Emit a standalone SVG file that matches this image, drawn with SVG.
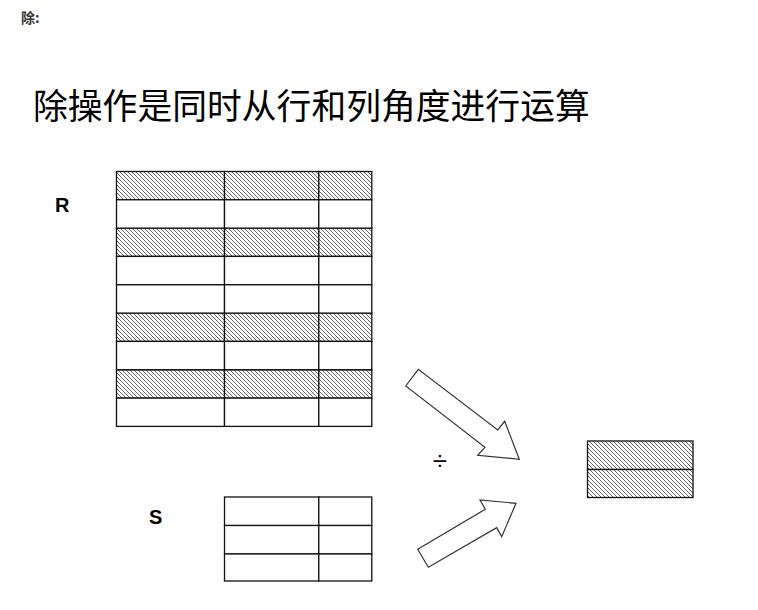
<svg xmlns="http://www.w3.org/2000/svg" width="758" height="610" viewBox="0 0 758 610">
<style>
.cell{fill:#fff;stroke:#111;stroke-width:1.3}
.hat{fill:url(#hatch);stroke:#111;stroke-width:1.3}
.lbl{font-family:"Liberation Sans",Arial,sans-serif;font-weight:bold;font-size:20px;fill:#000}
.arrow{fill:#fff;stroke:#333;stroke-width:1.2;stroke-linejoin:miter}
</style>
<defs>
<pattern id="hatch" patternUnits="userSpaceOnUse" width="4" height="4">
<rect width="4" height="4" fill="#fff"/>
<path d="M-1,-1 L5,5 M-1,3 L1,5 M3,-1 L5,1" stroke="#555" stroke-width="0.9"/>
</pattern>
</defs>
<rect width="758" height="610" fill="#fff"/>
<text x="21" y="23" style="font-family:'Noto Sans CJK SC',sans-serif;font-weight:bold;font-size:14px;fill:#333">除:</text>
<text x="33" y="119" style="font-family:'Noto Sans CJK SC',sans-serif;font-size:34.8px;fill:#000">除操作是同时从行和列角度进行运算</text>
<g id="R">
<text class="lbl" x="55" y="212">R</text>
<g class="hat">
<rect x="116.5" y="171.5" width="108" height="28.3"/><rect x="224.5" y="171.5" width="94.3" height="28.3"/><rect x="318.8" y="171.5" width="53" height="28.3"/>
<rect x="116.5" y="228.1" width="108" height="28.3"/><rect x="224.5" y="228.1" width="94.3" height="28.3"/><rect x="318.8" y="228.1" width="53" height="28.3"/>
<rect x="116.5" y="313.1" width="108" height="28.3"/><rect x="224.5" y="313.1" width="94.3" height="28.3"/><rect x="318.8" y="313.1" width="53" height="28.3"/>
<rect x="116.5" y="369.8" width="108" height="28.3"/><rect x="224.5" y="369.8" width="94.3" height="28.3"/><rect x="318.8" y="369.8" width="53" height="28.3"/>
</g>
<g class="cell">
<rect x="116.5" y="199.8" width="108" height="28.3"/><rect x="224.5" y="199.8" width="94.3" height="28.3"/><rect x="318.8" y="199.8" width="53" height="28.3"/>
<rect x="116.5" y="256.4" width="108" height="28.3"/><rect x="224.5" y="256.4" width="94.3" height="28.3"/><rect x="318.8" y="256.4" width="53" height="28.3"/>
<rect x="116.5" y="284.8" width="108" height="28.3"/><rect x="224.5" y="284.8" width="94.3" height="28.3"/><rect x="318.8" y="284.8" width="53" height="28.3"/>
<rect x="116.5" y="341.4" width="108" height="28.3"/><rect x="224.5" y="341.4" width="94.3" height="28.3"/><rect x="318.8" y="341.4" width="53" height="28.3"/>
<rect x="116.5" y="398.1" width="108" height="28.3"/><rect x="224.5" y="398.1" width="94.3" height="28.3"/><rect x="318.8" y="398.1" width="53" height="28.3"/>
</g>
</g>
<g id="S">
<text class="lbl" x="149" y="524">S</text>
<g class="cell">
<rect x="224.5" y="497" width="94.3" height="28.5"/><rect x="318.8" y="497" width="53" height="28.5"/>
<rect x="224.5" y="525.5" width="94.3" height="28.5"/><rect x="318.8" y="525.5" width="53" height="28.5"/>
<rect x="224.5" y="554" width="94.3" height="27"/><rect x="318.8" y="554" width="53" height="27"/>
</g>
</g>
<g id="result">
<rect class="hat" x="587.5" y="441" width="105.5" height="28.5"/>
<rect class="hat" x="587.5" y="469.5" width="105.5" height="28"/>
</g>
<g id="div">
<text x="440" y="470" text-anchor="middle" style="font-family:'Liberation Sans',Arial,sans-serif;font-size:26px;fill:#000">÷</text>
</g>
<g id="connectors">
<polygon class="arrow" points="405.7,386 418.3,369.3 497.7,430 504.7,421.3 519.3,459.3 477.7,455.3 485,447.3"/>
<polygon class="arrow" points="417.7,549.3 485.3,509.3 480,500 516,503.3 501.7,536.7 496.7,527.7 428.3,567.3"/>
</g>
</svg>
